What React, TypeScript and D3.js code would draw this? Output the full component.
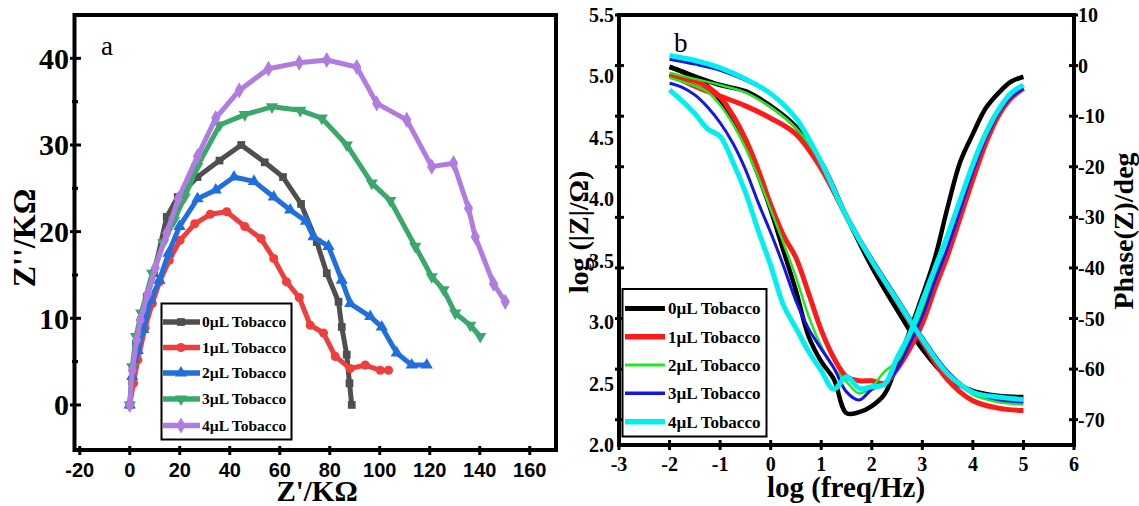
import React from "react";
import * as d3 from "d3";

// ---------- panel a : Nyquist ----------
const legendLabels = ["0\u00B5L Tobacco", "1\u00B5L Tobacco", "2\u00B5L Tobacco", "3\u00B5L Tobacco", "4\u00B5L Tobacco"];

const nyqX0 = [0, 1, 2.5, 4.6, 6.8, 9.7, 14.8, 19.2, 27.1, 35.9, 44.6, 54, 61.3, 68.5, 74.8, 78.8, 83.5, 84.8, 86.8, 87.9, 88.8];
const nyqY0 = [0, 2.7, 7.1, 9.8, 12.5, 15.2, 21.7, 24, 26.3, 28.2, 30, 28, 26.3, 23.2, 18.8, 15.2, 11.9, 9, 5.8, 2.5, 0];

const nyqX1 = [0, 1.5, 3.2, 6.1, 9, 11.9, 15.8, 20.1, 26, 32.2, 38.8, 46, 52.5, 57.6, 62.7, 67.8, 72.2, 77.5, 82.2, 88.2, 94.2, 100.2, 103.5];
const nyqY1 = [0, 2.5, 5.2, 8.9, 11.7, 14.2, 16.7, 19, 20.9, 22, 22.3, 20.6, 19.2, 16.9, 14.2, 12.4, 9.2, 8.3, 5.6, 4.2, 4.6, 4.0, 4.0];

const nyqX2 = [0, 1, 3.2, 5.4, 8.3, 11.9, 15.5, 19.9, 27.1, 34.4, 41.7, 49.7, 57.6, 64.2, 70.5, 73.5, 79.5, 84.8, 88.2, 96.2, 100.8, 106.8, 112.8, 118.8];
const nyqY2 = [0, 3.3, 6.3, 8.7, 12.1, 14.4, 17.5, 20.6, 23.8, 24.8, 26.3, 25.8, 24, 22.5, 21.2, 19.4, 18.3, 14.4, 11.7, 10.2, 9.0, 6.0, 4.6, 4.6];

const nyqX3 = [0, 1, 2.5, 4.6, 9, 13.4, 17.7, 22, 27, 36, 46, 56.9, 68.2, 76.8, 86.8, 96.8, 104.2, 114.2, 120.8, 125.5, 130.2, 136.2, 140.2];
const nyqY3 = [0, 4.4, 7.9, 10.6, 15.2, 18.7, 21.3, 24, 27.5, 32.3, 33.5, 34.4, 34.0, 33.1, 30.0, 25.6, 23.6, 18.3, 14.8, 13.3, 10.6, 9.2, 7.9];

const nyqX4 = [0, 1, 2.8, 4.2, 7.2, 10.2, 14.8, 19.4, 27.1, 34.4, 43.8, 55.5, 67.8, 78.8, 90.8, 98.8, 110.8, 120.8, 129.5, 135.5, 138.2, 145.5, 150.2];
const nyqY4 = [0, 4, 7.5, 9.8, 12.8, 15.8, 19.8, 23.8, 28.7, 33.1, 36.3, 38.8, 39.5, 39.8, 39.0, 34.8, 32.9, 27.5, 27.9, 22.7, 19.4, 14.0, 11.9];

const nyqXTicks = [-20, 0, 20, 40, 60, 80, 100, 120, 140, 160];
const nyqYTicks = [0, 10, 20, 30, 40];
const nyqYMinor = [5, 15, 25, 35];

// ---------- panel b : Bode ----------
const logFreqZ = [-2, -1.5, -1, -0.5, 0, 0.5, 1, 1.5, 2, 2.5, 3, 3.5, 4, 4.5, 5];
const logZ0 = [5.08, 5.0, 4.93, 4.88, 4.76, 4.59, 4.3, 3.86, 3.45, 3.1, 2.78, 2.55, 2.44, 2.4, 2.39];
const logZ1 = [5.02, 4.92, 4.84, 4.76, 4.66, 4.53, 4.25, 3.86, 3.5, 3.17, 2.84, 2.53, 2.36, 2.3, 2.28];
const logZ2 = [5.03, 4.98, 4.93, 4.87, 4.75, 4.58, 4.3, 3.87, 3.5, 3.18, 2.86, 2.58, 2.41, 2.35, 2.33];
const logZ3 = [5.14, 5.1, 5.05, 4.97, 4.86, 4.66, 4.3, 3.86, 3.52, 3.2, 2.88, 2.6, 2.43, 2.37, 2.35];
const logZ4 = [5.17, 5.13, 5.07, 4.98, 4.86, 4.66, 4.3, 3.86, 3.5, 3.18, 2.86, 2.58, 2.43, 2.39, 2.37];

const logFreqP = [-2, -1.75, -1.5, -1.25, -1, -0.75, -0.5, -0.25, 0, 0.25, 0.5, 0.75, 1, 1.25, 1.5, 1.75, 2, 2.25, 2.5, 2.75, 3, 3.25, 3.5, 3.75, 4, 4.25, 4.5, 4.75, 5];
const phase0 = [-0.3, -1.2, -2.3, -4.0, -6.8, -10.5, -15.5, -21.5, -28.5, -36.5, -44.5, -53.5, -58.5, -62, -68.7, -68.5, -67.3, -65, -59, -52.5, -45.5, -38, -28, -19, -13.5, -8.5, -5.5, -3.2, -2.2];
const phase1 = [-1.9, -2.4, -3.0, -4.2, -6.2, -9.8, -14.5, -20.5, -27.5, -33.5, -38, -45, -52.3, -57.8, -61.5, -62.3, -62.3, -62.8, -60, -56, -51, -44, -37.5, -30, -22.5, -15.5, -10, -6.5, -4.5];
const phase2 = [-2.4, -3.2, -4.0, -5.2, -7.8, -11.5, -16.2, -22, -28.5, -35, -41.8, -49.5, -55.5, -59.8, -62.5, -64.8, -63.5, -60.5, -58.5, -54.5, -48.5, -41.5, -34, -27, -19.5, -13, -8.5, -5.5, -4];
const phase3 = [-3.5, -4.3, -5.8, -8.2, -11.3, -15.3, -20.5, -27, -33, -39.5, -46.5, -52, -56, -59.8, -64.5, -66.1, -64, -63, -60, -55, -49.5, -42.5, -36, -28.5, -21, -14.5, -9.5, -6.3, -4.5];
const phase4 = [-4.8, -7, -9.5, -12.5, -14, -19, -25, -32.5, -39.5, -47.3, -51.9, -56.5, -60.3, -64, -61.5, -63.8, -63.5, -63, -57.8, -53, -46.5, -40, -33.5, -26.5, -19.5, -13.5, -8.8, -5.5, -3.8];

const bodeXTicks = [-3, -2, -1, 0, 1, 2, 3, 4, 5, 6];
const bodeZTicks = [2.0, 2.5, 3.0, 3.5, 4.0, 4.5, 5.0, 5.5];
const bodePTicks = [10, 0, -10, -20, -30, -40, -50, -60, -70];

const serif = "'Liberation Serif', 'Times New Roman', serif";
const narrow = "'Liberation Sans Narrow', 'Arial Narrow', 'Liberation Sans', sans-serif";

const nyqColors = ["#4f4f4f", "#ef3e3e", "#1f6fde", "#3aa86a", "#b07ce0"];
const nyqSymbols = [
  { type: d3.symbolSquare, size: 60, rot: 0 },
  { type: d3.symbolCircle, size: 65, rot: 0 },
  { type: d3.symbolTriangle, size: 65, rot: 0 },
  { type: d3.symbolTriangle, size: 65, rot: 180 },
  { type: d3.symbolDiamond, size: 75, rot: 0 },
];
const bodeColors = ["#000000", "#ff1a1a", "#22e822", "#1414ee", "#00f0f0"];
const bodeWidths = [4.5, 5, 2.5, 3, 5];

function PanelA() {
  const x = d3.scaleLinear().domain([-22.1, 170.5]).range([74.5, 556]);
  const y = d3.scaleLinear().domain([-5.2, 45]).range([450, 15]);
  const xs = [nyqX0, nyqX1, nyqX2, nyqX3, nyqX4];
  const ys = [nyqY0, nyqY1, nyqY2, nyqY3, nyqY4];
  const line = d3.line<[number, number]>().x(d => x(d[0])).y(d => y(d[1]));

  const legY = [322, 347.5, 373, 399, 425.5];

  return (
    <g>
      {xs.map((xv, i) => {
        const pts = xv.map((v, j) => [v, ys[i][j]] as [number, number]);
        const sym = d3.symbol().type(nyqSymbols[i].type).size(nyqSymbols[i].size)();
        return (
          <g key={i}>
            <path d={line(pts) || ""} fill="none" stroke={nyqColors[i]} strokeWidth={5} strokeLinejoin="round" />
            {pts.map((p, j) => (
              <path key={j} d={sym || ""} fill={nyqColors[i]}
                transform={`translate(${x(p[0])},${y(p[1])}) rotate(${nyqSymbols[i].rot})`} />
            ))}
          </g>
        );
      })}

      {/* frame */}
      <rect x={74.5} y={15} width={481.5} height={435} fill="none" stroke="#000" strokeWidth={4} />

      {nyqXTicks.map(t => (
        <g key={t}>
          <line x1={x(t)} x2={x(t)} y1={446} y2={455} stroke="#000" strokeWidth={3} />
          <text x={x(t)} y={477} textAnchor="middle" fontFamily={narrow} fontWeight="bold" fontSize={20}>{t}</text>
        </g>
      ))}
      {nyqYTicks.map(t => (
        <g key={t}>
          <line x1={70} x2={81} y1={y(t)} y2={y(t)} stroke="#000" strokeWidth={3} />
          <text x={69} y={y(t)} dy="0.35em" textAnchor="end" fontFamily={serif} fontWeight="bold" fontSize={30}>{t}</text>
        </g>
      ))}
      {nyqYMinor.map(t => (
        <line key={t} x1={72} x2={78} y1={y(t)} y2={y(t)} stroke="#000" strokeWidth={3} />
      ))}

      <text x={317} y={501} textAnchor="middle" fontFamily={serif} fontWeight="bold" fontSize={29}>Z'/K&#937;</text>
      <text transform="translate(24,238) rotate(-90)" dy="0.35em" textAnchor="middle" fontFamily={serif} fontWeight="bold" fontSize={32}>Z''/K&#937;</text>
      <text x={101} y={55} fontFamily={serif} fontSize={27}>a</text>

      {/* legend */}
      <rect x={161.5} y={303.5} width={130} height={136} fill="#fff" stroke="#000" strokeWidth={2} />
      {legendLabels.map((lab, i) => {
        const sym = d3.symbol().type(nyqSymbols[i].type).size(nyqSymbols[i].size)();
        return (
          <g key={lab}>
            <line x1={163} x2={200} y1={legY[i]} y2={legY[i]} stroke={nyqColors[i]} strokeWidth={5.5} />
            <path d={sym || ""} fill={nyqColors[i]} transform={`translate(181,${legY[i]}) rotate(${nyqSymbols[i].rot})`} />
            <text x={202} y={legY[i]} dy="0.35em" fontFamily={serif} fontWeight="bold" fontSize={15.5}>{lab}</text>
          </g>
        );
      })}
    </g>
  );
}

function PanelB() {
  const x = d3.scaleLinear().domain([-3, 6]).range([619, 1074]);
  const yZ = d3.scaleLinear().domain([2, 5.5]).range([445, 15]);
  const yP = d3.scaleLinear().domain([-75, 10]).range([445, 15]);
  const zs = [logZ0, logZ1, logZ2, logZ3, logZ4];
  const ps = [phase0, phase1, phase2, phase3, phase4];
  const zLine = d3.line<number>().x((_, j) => x(logFreqZ[j])).y(d => yZ(d)).curve(d3.curveCatmullRom.alpha(0.5));
  const pLine = d3.line<number>().x((_, j) => x(logFreqP[j])).y(d => yP(d)).curve(d3.curveCatmullRom.alpha(0.5));

  const legY = [308.5, 336.7, 365, 393.3, 421.7];

  return (
    <g>
      {zs.map((z, i) => (
        <g key={i}>
          <path d={zLine(z) || ""} fill="none" stroke={bodeColors[i]} strokeWidth={bodeWidths[i]} strokeLinejoin="round" />
          <path d={pLine(ps[i]) || ""} fill="none" stroke={bodeColors[i]} strokeWidth={bodeWidths[i]} strokeLinejoin="round" />
        </g>
      ))}

      <rect x={619} y={15} width={455} height={430} fill="none" stroke="#000" strokeWidth={4} />

      {bodeXTicks.map(t => (
        <g key={t}>
          <line x1={x(t)} x2={x(t)} y1={440} y2={450} stroke="#000" strokeWidth={3} />
          <text x={x(t)} y={471} textAnchor="middle" fontFamily={serif} fontWeight="bold" fontSize={20}>{t}</text>
        </g>
      ))}
      {bodePTicks.map(t => (
        <g key={t}>
          <line x1={615} x2={624} y1={yP(t)} y2={yP(t)} stroke="#000" strokeWidth={3} />
          <line x1={1069} x2={1078} y1={yP(t)} y2={yP(t)} stroke="#000" strokeWidth={3} />
          <text x={1078} y={yP(t)} dy="0.35em" fontFamily={serif} fontWeight="bold" fontSize={20}>{t}</text>
        </g>
      ))}
      {bodeZTicks.map(t => (
        <text key={t} x={614} y={yZ(t)} dy="0.35em" textAnchor="end" fontFamily={serif} fontWeight="bold" fontSize={20}>{t.toFixed(1)}</text>
      ))}

      <text x={846} y={497} textAnchor="middle" fontFamily={serif} fontWeight="bold" fontSize={29}>log (freq/Hz)</text>
      <text transform="translate(578,232) rotate(-90)" dy="0.35em" textAnchor="middle" fontFamily={serif} fontWeight="bold" fontSize={28}>log (|Z|/&#937;)</text>
      <text transform="translate(1123,231) rotate(-90)" dy="0.35em" textAnchor="middle" fontFamily={serif} fontWeight="bold" fontSize={28}>Phase(Z)/deg</text>
      <text x={674} y={52} fontFamily={serif} fontSize={27}>b</text>

      <rect x={622.5} y={289} width={144} height={147.5} fill="#fff" stroke="#000" strokeWidth={2} />
      {legendLabels.map((lab, i) => (
        <g key={lab}>
          <line x1={625} x2={665} y1={legY[i]} y2={legY[i]} stroke={bodeColors[i]} strokeWidth={bodeWidths[i] + 0.5} />
          <text x={668} y={legY[i]} dy="0.35em" fontFamily={serif} fontWeight="bold" fontSize={17}>{lab}</text>
        </g>
      ))}
    </g>
  );
}

export default function App() {
  return (
    <svg width={1139} height={506} viewBox="0 0 1139 506"
      style={{ position: "absolute", left: 0, top: 0, background: "#fff" }}>
      <rect width={1139} height={506} fill="#fff" />
      <PanelA />
      <PanelB />
    </svg>
  );
}
